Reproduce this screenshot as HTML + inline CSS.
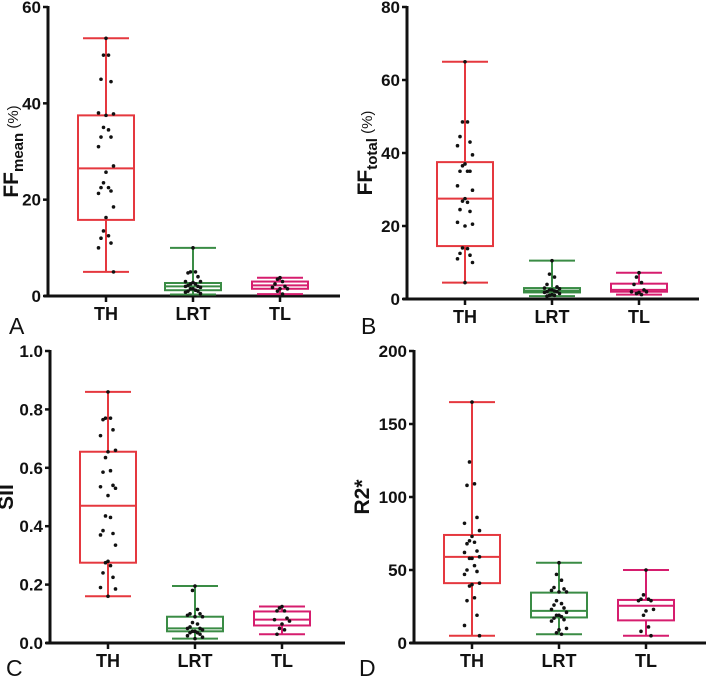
<!DOCTYPE html>
<html><head><meta charset="utf-8"><style>
html,body{margin:0;padding:0;background:#fff;}
svg{display:block;font-family:"Liberation Sans",Arial,sans-serif;}
.tick{font-weight:bold;font-size:17px;fill:#111;}
.cat{font-weight:bold;font-size:18px;fill:#111;}
</style></head><body>
<svg id="chart" width="709" height="683" viewBox="0 0 709 683" xmlns="http://www.w3.org/2000/svg"></svg>
<script>
const categories = ["TH","LRT","TL"];
const colors = ["#e5383f","#3a8c45","#d61d6e"];
// Panel A: FFmean (%)
const aTicks = [0,20,40,60];
const aStats = [[5,15.8,26.5,37.5,53.5],[0.3,1.2,2,2.7,10],[0.4,1.5,2.2,3.0,3.8]];
const aPoints = [
 [53.5,50,50,45,44.5,38,37.8,37.5,35,34.5,33,33,31,27,25.7,23.5,22.5,22.5,21.8,21.3,18.5,16.3,13.5,12.5,12,11,10,5],
 [10,5,5,4.8,4,3,3,2.8,2.5,2.5,2.2,2,2,1.8,1.5,1.5,1.2,1,1,0.8,0.5],
 [3.8,3.5,3,2.5,2,1.8,1.5,1.5,1,0.4]];
// Panel B: FFtotal (%)
const bTicks = [0,20,40,60,80];
const bStats = [[4.5,14.5,27.5,37.5,65],[0.8,1.8,2.3,3,10.5],[1.2,2,2.5,4.2,7.2]];
const bPoints = [
 [65,48.5,48.5,44.5,43,42,39.5,37,36.5,35,35,35,31,29.8,27.5,26.8,26.5,24.5,24,21,20.5,20,14,13.8,12.5,12,11,10,4.5],
 [10.5,6.8,6,4,3.3,3,2.8,2.5,2.5,2.2,2,2,1.8,1.5,1.2,1,1,0.8],
 [7.2,6,4.5,4,2.5,2,2,1.8,1.5,1.2]];
// Panel C: SII
const cTicks = [0,0.2,0.4,0.6,0.8,1.0];
const cStats = [[0.16,0.275,0.47,0.655,0.86],[0.015,0.04,0.05,0.09,0.195],[0.03,0.06,0.08,0.108,0.125]];
const cPoints = [
 [.86,.77,.77,.765,.73,.71,.66,.655,.635,.59,.585,.54,.535,.53,.505,.435,.43,.385,.375,.37,.335,.28,.275,.265,.24,.225,.19,.185,.16],
 [.195,.18,.115,.1,.1,.095,.09,.09,.07,.065,.055,.05,.05,.045,.04,.04,.035,.035,.03,.025,.02,.015],
 [.125,.12,.11,.11,.085,.08,.075,.065,.05,.045,.03]];
// Panel D: R2*
const dTicks = [0,50,100,150,200];
const dStats = [[5,41,59,74,165],[6,17.5,22,34.5,55],[5,15.5,25.5,29.5,50]];
const dPoints = [
 [165,124,109,108,86,82,77,73,70,69,68,63,62,59,58,58,53,50,49,47,41,40,39,31,29,19,12,5],
 [55,47,43,38,37,36,35,35,29,27,26,24,23,21,19,19,18,17,16,15,10,9,7,6],
 [50,33,30,30,29,29,23,22,19,11,8,5]];

const NS="http://www.w3.org/2000/svg";
const svg=document.getElementById('chart');
function mk(tag,attrs,parent){const e=document.createElementNS(NS,tag);for(const k in attrs)e.setAttribute(k,attrs[k]);(parent||svg).appendChild(e);return e;}

function panel(cfg){
 const g=mk('g',{});
 
 
 const ymax=cfg.ticks[cfg.ticks.length-1];
 const y=v=>cfg.y0-(v/ymax)*(cfg.y0-cfg.yTop);
 const xs=[cfg.x0+58,cfg.x0+145,cfg.x0+232];
 const ya=mk('line',{x1:cfg.x0,y1:cfg.yTop-1,x2:cfg.x0,y2:cfg.y0+1.5,stroke:'#111','stroke-width':3},g);
 
 
 const xa=mk('line',{x1:cfg.x0-4,y1:cfg.y0,x2:cfg.xEnd,y2:cfg.y0,stroke:'#111','stroke-width':3},g);
 
 
 cfg.ticks.forEach((t,i)=>{
  const yy=y(t);
  mk('line',{x1:cfg.x0-5,y1:yy,x2:cfg.x0,y2:yy,stroke:'#111','stroke-width':2.5},g);
  const tx=mk('text',{x:cfg.x0-7,y:yy+6,'text-anchor':'end',class:'tick'},g);
  tx.textContent=cfg.fmt?cfg.fmt(t):String(t);
  
  
 });
 categories.forEach((c,i)=>{
  mk('line',{x1:xs[i],y1:cfg.y0,x2:xs[i],y2:cfg.y0+6,stroke:'#111','stroke-width':2.5},g);
  const tx=mk('text',{x:xs[i],y:cfg.y0+24,'text-anchor':'middle',class:'cat'},g);
  tx.textContent=c;
  
  
  const s=cfg.stats[i],col=colors[i],hw=28,cw=23;
  const bg=mk('g',{fill:'none',stroke:col,'stroke-width':2},g);
  
  
  mk('line',{x1:xs[i],y1:y(s[0]),x2:xs[i],y2:y(s[1])},bg);
  mk('line',{x1:xs[i],y1:y(s[3]),x2:xs[i],y2:y(s[4])},bg);
  mk('line',{x1:xs[i]-cw,y1:y(s[0]),x2:xs[i]+cw,y2:y(s[0])},bg);
  mk('line',{x1:xs[i]-cw,y1:y(s[4]),x2:xs[i]+cw,y2:y(s[4])},bg);
  mk('rect',{x:xs[i]-hw,y:y(s[3]),width:2*hw,height:y(s[1])-y(s[3])},bg);
  mk('line',{x1:xs[i]-hw,y1:y(s[2]),x2:xs[i]+hw,y2:y(s[2])},bg);
  const pts=cfg.points[i];
  const offs=[0,-2.5,2.5,-5,5,-7.5,7.5];
  pts.forEach((v,j)=>{
   const p=mk('circle',{cx:xs[i]+offs[j%7],cy:y(v),r:1.8,fill:'#111'},g);
   
   
  });
 });
 const yc=(cfg.y0+cfg.yTop)/2;
 const t=mk('text',{transform:`translate(${cfg.tx},${yc}) rotate(-90)`,'text-anchor':'middle','font-size':21,'font-weight':'bold',fill:'#111'},g);
 
 
 if(cfg.sub){
  const a=mk('tspan',{},t);a.textContent=cfg.title;
  const b=mk('tspan',{'font-size':15,dy:5},t);b.textContent=cfg.sub;
  const c2=mk('tspan',{'font-size':15,'font-weight':'normal',dy:-5},t);c2.textContent=' (%)';
 } else t.textContent=cfg.title;
 const L=mk('text',{x:cfg.lx,y:cfg.ly,'font-size':23,fill:'#111'},g);
 L.textContent=cfg.letter;
 
 
}
panel({name:'panel-a',x0:48,yTop:7,y0:296,xEnd:340,ticks:aTicks,stats:aStats,points:aPoints,title:'FF',sub:'mean',letter:'A',lx:9,ly:334,tx:18});
panel({name:'panel-b',x0:407,yTop:7,y0:299,xEnd:699,ticks:bTicks,stats:bStats,points:bPoints,title:'FF',sub:'total',letter:'B',lx:361,ly:334,tx:372});
panel({name:'panel-c',x0:50,yTop:351,y0:643,xEnd:345,ticks:cTicks,stats:cStats,points:cPoints,title:'SII',letter:'C',lx:6,ly:676,fmt:v=>v.toFixed(1),tx:13});
panel({name:'panel-d',x0:414,yTop:351,y0:643,xEnd:706,ticks:dTicks,stats:dStats,points:dPoints,title:'R2*',letter:'D',lx:359,ly:676,tx:369});
</script>
</body></html>
